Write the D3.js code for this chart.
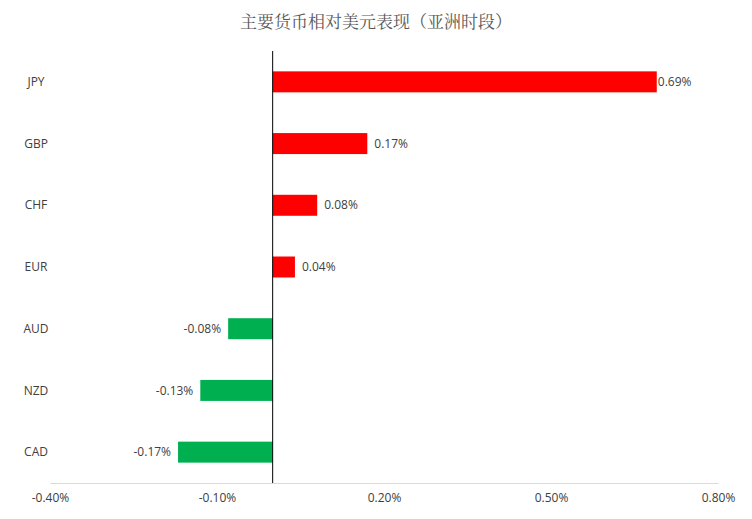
<!DOCTYPE html>
<html><head><meta charset="utf-8">
<script src="https://cdn.jsdelivr.net/npm/d3@7"></script>
<style>body{margin:0;background:#fff}</style>
</head><body>
<svg id="chart" width="752" height="519"></svg>
<script>
const categories = ['JPY', 'GBP', 'CHF', 'EUR', 'AUD', 'NZD', 'CAD'];
const values = [0.69, 0.17, 0.08, 0.04, -0.08, -0.13, -0.17];
const tickValues = [-0.4, -0.1, 0.2, 0.5, 0.8];

const svg = d3.select('#chart');
const margin = { top: 51, right: 34, bottom: 36, left: 50 };
const width = 752 - margin.left - margin.right;
const height = 519 - margin.top - margin.bottom;
const font = '"Open Sans", "Noto Sans", sans-serif';

svg.append('text')
  .attr('x', 376).attr('y', 28)
  .attr('text-anchor', 'middle')
  .attr('font-family', '"Noto Serif CJK SC", "Noto Sans CJK SC", serif')
  .attr('font-size', 17).attr('fill', '#595959')
  .text('主要货币相对美元表现（亚洲时段）');

const g = svg.append('g').attr('transform', `translate(${margin.left},${margin.top})`);

const x = d3.scaleLinear().domain([-0.4, 0.8]).range([0, width]);
const y = d3.scaleBand().domain(categories).range([0, height]).paddingInner(0.66).paddingOuter(0.33);

// bars
g.selectAll('rect').data(values).enter().append('rect')
  .attr('x', d => x(Math.min(0, d)))
  .attr('y', (d, i) => y(categories[i]))
  .attr('width', d => Math.abs(x(d) - x(0)))
  .attr('height', y.bandwidth())
  .attr('fill', d => d >= 0 ? '#ff0000' : '#00b050');

// value labels
g.selectAll('.val').data(values).enter().append('text')
  .attr('x', d => d >= 0 ? x(d) + (d > 0.5 ? 1 : 7) : x(d) - 7)
  .attr('y', (d, i) => y(categories[i]) + y.bandwidth() / 2)
  .attr('dy', '0.35em')
  .attr('text-anchor', d => d >= 0 ? 'start' : 'end')
  .attr('font-family', font).attr('font-size', 12).attr('fill', '#404040')
  .text(d => d.toFixed(2) + '%');

// category labels
g.selectAll('.cat').data(categories).enter().append('text')
  .attr('x', -14)
  .attr('y', d => y(d) + y.bandwidth() / 2)
  .attr('dy', '0.35em')
  .attr('text-anchor', 'middle')
  .attr('font-family', font).attr('font-size', 12).attr('fill', '#404040')
  .text(d => d);

// zero line
g.append('line')
  .attr('x1', x(0)).attr('x2', x(0)).attr('y1', 0).attr('y2', height)
  .attr('stroke', '#000').attr('stroke-width', 1);

// x axis
const ax = g.append('g').attr('transform', `translate(0,${height})`)
  .call(d3.axisBottom(x).tickValues(tickValues).tickSize(0).tickPadding(10)
    .tickFormat(d => d.toFixed(2) + '%'));
ax.select('.domain').attr('stroke', '#d9d9d9');
ax.selectAll('text').attr('font-family', font).attr('font-size', 12).attr('fill', '#404040');
</script>
</body></html>
